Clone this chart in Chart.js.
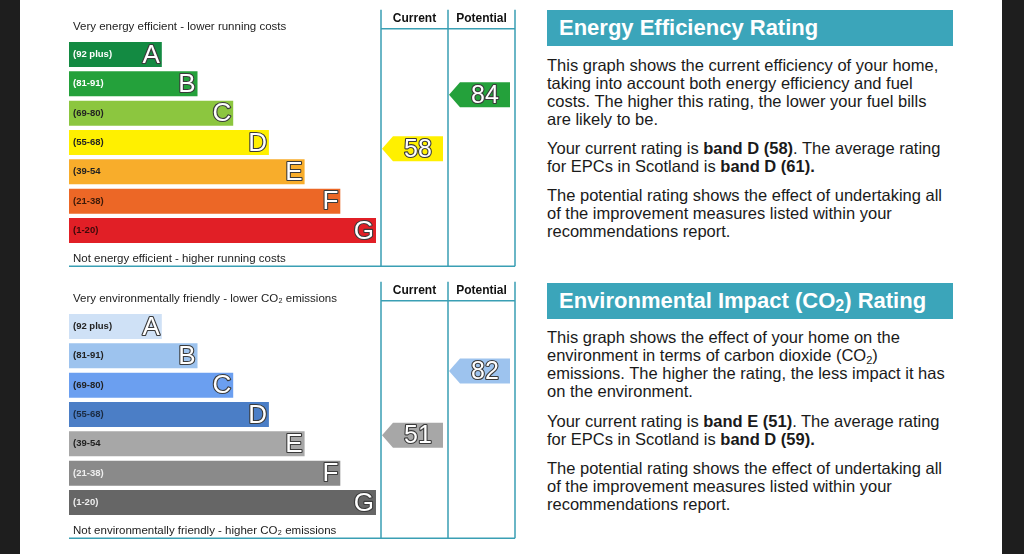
<!DOCTYPE html>
<html>
<head>
<meta charset="utf-8">
<script src="https://cdn.jsdelivr.net/npm/chart.js@4"></script>
<style>
  body { margin: 0; width: 1024px; height: 554px; background: #fff; position: relative; overflow: hidden;
         font-family: "Liberation Sans", Arial, sans-serif; color: #1a1a1a; }
  .edge { position: absolute; top: 0; height: 554px; background: #1e1e1e; }
  canvas { position: absolute; left: 0; }
  .titulo { position: absolute; left: 547px; width: 406px; height: 36px; background: #3ba5ba;
            color: #fff; font-weight: bold; font-size: 22px; line-height: 36px; padding-left: 12px; box-sizing: border-box; }
  .titulo sub { font-size: 16px; vertical-align: -3px; line-height: 0; }
  .texto { position: absolute; left: 547px; font-size: 16.5px; line-height: 18px; white-space: nowrap; }
  .texto sub { font-size: 11px; vertical-align: -3px; line-height: 0; }
</style>
</head>
<body>
<div class="edge" style="left:0;width:20px"></div>
<div class="edge" style="left:1002px;width:22px"></div>

<canvas id="graficoEnergia" width="530" height="277" style="top:0"></canvas>
<canvas id="graficoAmbiental" width="530" height="282" style="top:272px"></canvas>

<div class="titulo" style="top:10px">Energy Efficiency Rating</div>
<div class="texto" style="top:56px">This graph shows the current efficiency of your home,<br>taking into account both energy efficiency and fuel<br>costs. The higher this rating, the lower your fuel bills<br>are likely to be.</div>
<div class="texto" style="top:139px">Your current rating is <b>band D (58)</b>. The average rating<br>for EPCs in Scotland is <b>band D (61).</b></div>
<div class="texto" style="top:186px">The potential rating shows the effect of undertaking all<br>of the improvement measures listed within your<br>recommendations report.</div>

<div class="titulo" style="top:283px">Environmental Impact (CO<sub>2</sub>) Rating</div>
<div class="texto" style="top:328px">This graph shows the effect of your home on the<br>environment in terms of carbon dioxide (CO<sub>2</sub>)<br>emissions. The higher the rating, the less impact it has<br>on the environment.</div>
<div class="texto" style="top:412px">Your current rating is <b>band E (51)</b>. The average rating<br>for EPCs in Scotland is <b>band D (59).</b></div>
<div class="texto" style="top:459px">The potential rating shows the effect of undertaking all<br>of the improvement measures listed within your<br>recommendations report.</div>

<script>
// bandas e faixas de pontuação
const bandas = ["A", "B", "C", "D", "E", "F", "G"];
const faixas = ["(92 plus)", "(81-91)", "(69-80)", "(55-68)", "(39-54", "(21-38)", "(1-20)"];
const limitesMinimos = [92, 81, 69, 55, 39, 21, 1];
const comprimentos = [2.6, 3.6, 4.6, 5.6, 6.6, 7.6, 8.6];

// eficiência energética
const energiaAtual = 58;
const energiaPotencial = 84;
const coresEnergia = ["#138a42", "#24a13b", "#8cc63f", "#fff000", "#f8ad2b", "#ec6726", "#e11f26"];
const textoFaixaEnergia = ["#fff", "#fff", "#222", "#222", "#222", "#3a1a0a", "#3a0a0a"];

// impacto ambiental (CO2)
const ambientalAtual = 51;
const ambientalPotencial = 82;
const coresAmbiental = ["#cfe1f6", "#9dc3ee", "#6b9ff0", "#4b7ec6", "#a7a7a7", "#8a8a8a", "#666666"];
const textoFaixaAmbiental = ["#222", "#222", "#222", "#1a2a40", "#222", "#eee", "#eee"];

const FONTE = '"Liberation Sans", Arial, sans-serif';
const TEAL = "#3a9fb4";

function corDaBanda(valor, cores) {
  const i = limitesMinimos.findIndex((m) => valor >= m);
  return cores[i < 0 ? cores.length - 1 : i];
}

function textoContornado(ctx, txt, x, y) {
  ctx.lineJoin = "round";
  ctx.lineWidth = 2.2;
  ctx.strokeStyle = "#3a3a3a";
  ctx.strokeText(txt, x, y);
  ctx.fillStyle = "#fff";
  ctx.fillText(txt, x, y);
}

function desenharSeta(ctx, xEsq, y, largura, altura, cor, valor) {
  const ponta = 11;
  ctx.beginPath();
  ctx.moveTo(xEsq, y);
  ctx.lineTo(xEsq + ponta, y - altura / 2);
  ctx.lineTo(xEsq + largura, y - altura / 2);
  ctx.lineTo(xEsq + largura, y + altura / 2);
  ctx.lineTo(xEsq + ponta, y + altura / 2);
  ctx.closePath();
  ctx.fillStyle = cor;
  ctx.fill();
  ctx.font = "25px " + FONTE;
  ctx.textAlign = "center";
  ctx.textBaseline = "middle";
  textoContornado(ctx, String(valor), xEsq + ponta + (largura - ponta) / 2, y + 1);
}

function criarGrafico(id, cfg) {
  const canvas = document.getElementById(id);
  const alturaCanvas = canvas.height;

  const pluginEPC = {
    id: "epc",
    afterDatasetsDraw(chart) {
      const ctx = chart.ctx;
      const area = chart.chartArea;
      const meta = chart.getDatasetMeta(0);
      const yr = chart.scales.yr;
      ctx.save();

      // rótulos das faixas e letras
      meta.data.forEach((bar, i) => {
        ctx.textBaseline = "middle";
        ctx.textAlign = "left";
        ctx.font = "bold 9.5px " + FONTE;
        ctx.fillStyle = cfg.textoFaixa[i];
        ctx.fillText(faixas[i], bar.base + 4, bar.y);

        ctx.font = "26px " + FONTE;
        ctx.textAlign = "right";
        textoContornado(ctx, bandas[i], bar.x - 2, bar.y + 1);
      });

      // colunas Current / Potential
      const c0 = area.right + 5;
      const c1 = c0 + 67;
      const c2 = c1 + 67;
      const yTopo = area.top - 30;
      const yCab = area.top - 11;
      const yBase = area.bottom + 21;
      ctx.strokeStyle = TEAL;
      ctx.lineWidth = 1.5;
      ctx.beginPath();
      [c0, c1, c2].forEach((x) => {
        ctx.moveTo(x, yTopo);
        ctx.lineTo(x, yBase);
      });
      ctx.moveTo(c0, yCab);
      ctx.lineTo(c2, yCab);
      ctx.moveTo(area.left, yBase);
      ctx.lineTo(c2, yBase);
      ctx.stroke();

      ctx.fillStyle = "#111";
      ctx.font = "bold 12px " + FONTE;
      ctx.textAlign = "center";
      ctx.textBaseline = "middle";
      ctx.fillText("Current", (c0 + c1) / 2, yTopo + 9);
      ctx.fillText("Potential", (c1 + c2) / 2, yTopo + 9);

      ctx.font = "11.5px " + FONTE;
      ctx.textAlign = "left";
      ctx.fillStyle = "#222";
      ctx.fillText(cfg.textoTopo, area.left + 4, area.top - 13);
      ctx.fillText(cfg.textoBase, area.left + 4, area.bottom + 14);

      // setas com a pontuação
      desenharSeta(ctx, c0 + 1, yr.getPixelForValue(cfg.atual), 61, 25, corDaBanda(cfg.atual, cfg.cores), cfg.atual);
      desenharSeta(ctx, c1 + 1, yr.getPixelForValue(cfg.potencial), 61, 25, corDaBanda(cfg.potencial, cfg.cores), cfg.potencial);

      ctx.restore();
    },
  };

  return new Chart(canvas.getContext("2d"), {
    type: "bar",
    data: {
      labels: bandas,
      datasets: [
        {
          data: comprimentos,
          backgroundColor: cfg.cores,
          borderWidth: 0,
          barPercentage: 0.852,
          categoryPercentage: 1,
        },
      ],
    },
    options: {
      indexAxis: "y",
      responsive: false,
      animation: false,
      layout: {
        padding: { left: 69, right: 154, top: 39.8, bottom: alturaCanvas - 245.2 },
      },
      plugins: {
        legend: { display: false },
        tooltip: { enabled: false },
      },
      scales: {
        x: { type: "linear", min: 0, max: 8.6, display: false },
        y: { type: "category", display: false },
        yr: { type: "linear", axis: "y", min: 17, max: 105, display: false },
      },
    },
    plugins: [pluginEPC],
  });
}

criarGrafico("graficoEnergia", {
  cores: coresEnergia,
  textoFaixa: textoFaixaEnergia,
  atual: energiaAtual,
  potencial: energiaPotencial,
  textoTopo: "Very energy efficient - lower running costs",
  textoBase: "Not energy efficient - higher running costs",
});

criarGrafico("graficoAmbiental", {
  cores: coresAmbiental,
  textoFaixa: textoFaixaAmbiental,
  atual: ambientalAtual,
  potencial: ambientalPotencial,
  textoTopo: "Very environmentally friendly - lower CO\u2082 emissions",
  textoBase: "Not environmentally friendly - higher CO\u2082 emissions",
});
</script>
</body>
</html>
